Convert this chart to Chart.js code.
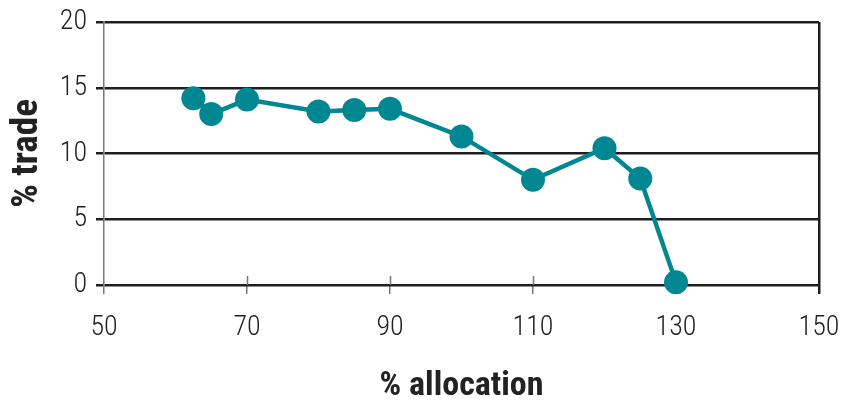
<!DOCTYPE html>
<html>
<head>
<meta charset="utf-8">
<script src="https://cdn.jsdelivr.net/npm/chart.js@4/dist/chart.umd.min.js"></script>
<style>
  html, body { margin: 0; padding: 0; background: #fff; }
  #wrap { width: 844px; height: 400px; }
</style>
</head>
<body>
<div id="wrap"><canvas id="myChart" width="844" height="400"></canvas></div>
<script>
// % allocation vs % trade
const allocation = [62.5, 65, 70, 80, 85, 90, 100, 110, 120, 125, 130];
const trade = [14.2, 13.0, 14.1, 13.2, 13.3, 13.4, 11.3, 8.0, 10.4, 8.1, 0.2];
const xTicks = [50, 70, 90, 110, 130, 150];
const yTicks = [0, 5, 10, 15, 20];

const TEAL = '#008792';
const INK = '#1e1e1e';
const AXIS_GREY = '#777777';
const FONT = "'Roboto Condensed', 'DejaVu Sans Condensed', sans-serif";

/**
 * The x tick marks cross the zero line: Chart.js only draws the part
 * below the chart area, so draw the short part above it here.
 */
const crossTicks = {
    id: 'crossTicks',
    beforeDatasetsDraw(chart) {
        const { ctx, chartArea, scales } = chart;
        ctx.save();
        ctx.strokeStyle = AXIS_GREY;
        ctx.lineWidth = 1.5;
        xTicks.slice(1, -1).forEach(v => {
            const px = Math.round(scales.x.getPixelForValue(v)) + 0.5;
            ctx.beginPath();
            ctx.moveTo(px, chartArea.bottom - 9);
            ctx.lineTo(px, chartArea.bottom);
            ctx.stroke();
        });
        ctx.restore();
    }
};

function initChart() {
    const ctx = document.getElementById('myChart').getContext('2d');
    const points = allocation.map((x, i) => ({ x: x, y: trade[i] }));

    new Chart(ctx, {
        type: 'scatter',
        data: {
            datasets: [{
                data: points,
                showLine: true,
                borderColor: TEAL,
                borderWidth: 4.5,
                backgroundColor: TEAL,
                pointBackgroundColor: TEAL,
                pointBorderWidth: 0,
                pointRadius: 12,
                pointHoverRadius: 12,
                tension: 0,
                clip: false
            }]
        },
        options: {
            responsive: false,
            animation: false,
            layout: {
                padding: { top: 22, right: 25, left: 0, bottom: 0 }
            },
            plugins: {
                legend: { display: false },
                tooltip: { enabled: false }
            },
            scales: {
                x: {
                    type: 'linear',
                    min: 50,
                    max: 150,
                    afterBuildTicks: scale => {
                        scale.ticks = xTicks.map(v => ({ value: v }));
                    },
                    afterFit: scale => {
                        scale.height = 115;
                        scale.paddingLeft = 0;
                        scale.paddingRight = 0;
                    },
                    border: { display: false },
                    grid: {
                        drawOnChartArea: true,
                        tickLength: 9,
                        color: c => (c.tick && c.tick.value === 150) ? INK : 'rgba(0,0,0,0)',
                        tickColor: c => (c.tick && c.tick.value === 150) ? INK : AXIS_GREY,
                        lineWidth: c => (c.tick && c.tick.value === 150) ? 2.5 : 1.5
                    },
                    ticks: {
                        padding: 17,
                        color: '#222',
                        font: { family: FONT, size: 28, weight: 300 }
                    },
                    title: {
                        display: true,
                        text: '% allocation',
                        color: '#222',
                        padding: { top: 0, bottom: 0 },
                        font: { family: FONT, size: 34, weight: 'bold', lineHeight: 0.8 }
                    }
                },
                y: {
                    type: 'linear',
                    min: 0,
                    max: 20,
                    afterBuildTicks: scale => {
                        scale.ticks = yTicks.map(v => ({ value: v }));
                    },
                    afterFit: scale => {
                        scale.width = 104;
                        scale.paddingTop = 0;
                        scale.paddingBottom = 0;
                    },
                    border: { display: true, color: AXIS_GREY, width: 1.5 },
                    grid: {
                        color: INK,
                        lineWidth: 2.5,
                        tickLength: 8,
                        tickColor: INK
                    },
                    ticks: {
                        padding: 9,
                        color: '#222',
                        font: { family: FONT, size: 28, weight: 300 }
                    },
                    title: {
                        display: true,
                        text: '% trade',
                        color: '#222',
                        padding: { top: 6, bottom: 0 },
                        font: { family: FONT, size: 37, weight: 'bold', lineHeight: 1.2 }
                    }
                }
            }
        },
        plugins: [crossTicks]
    });
}

initChart();
</script>
</body>
</html>
